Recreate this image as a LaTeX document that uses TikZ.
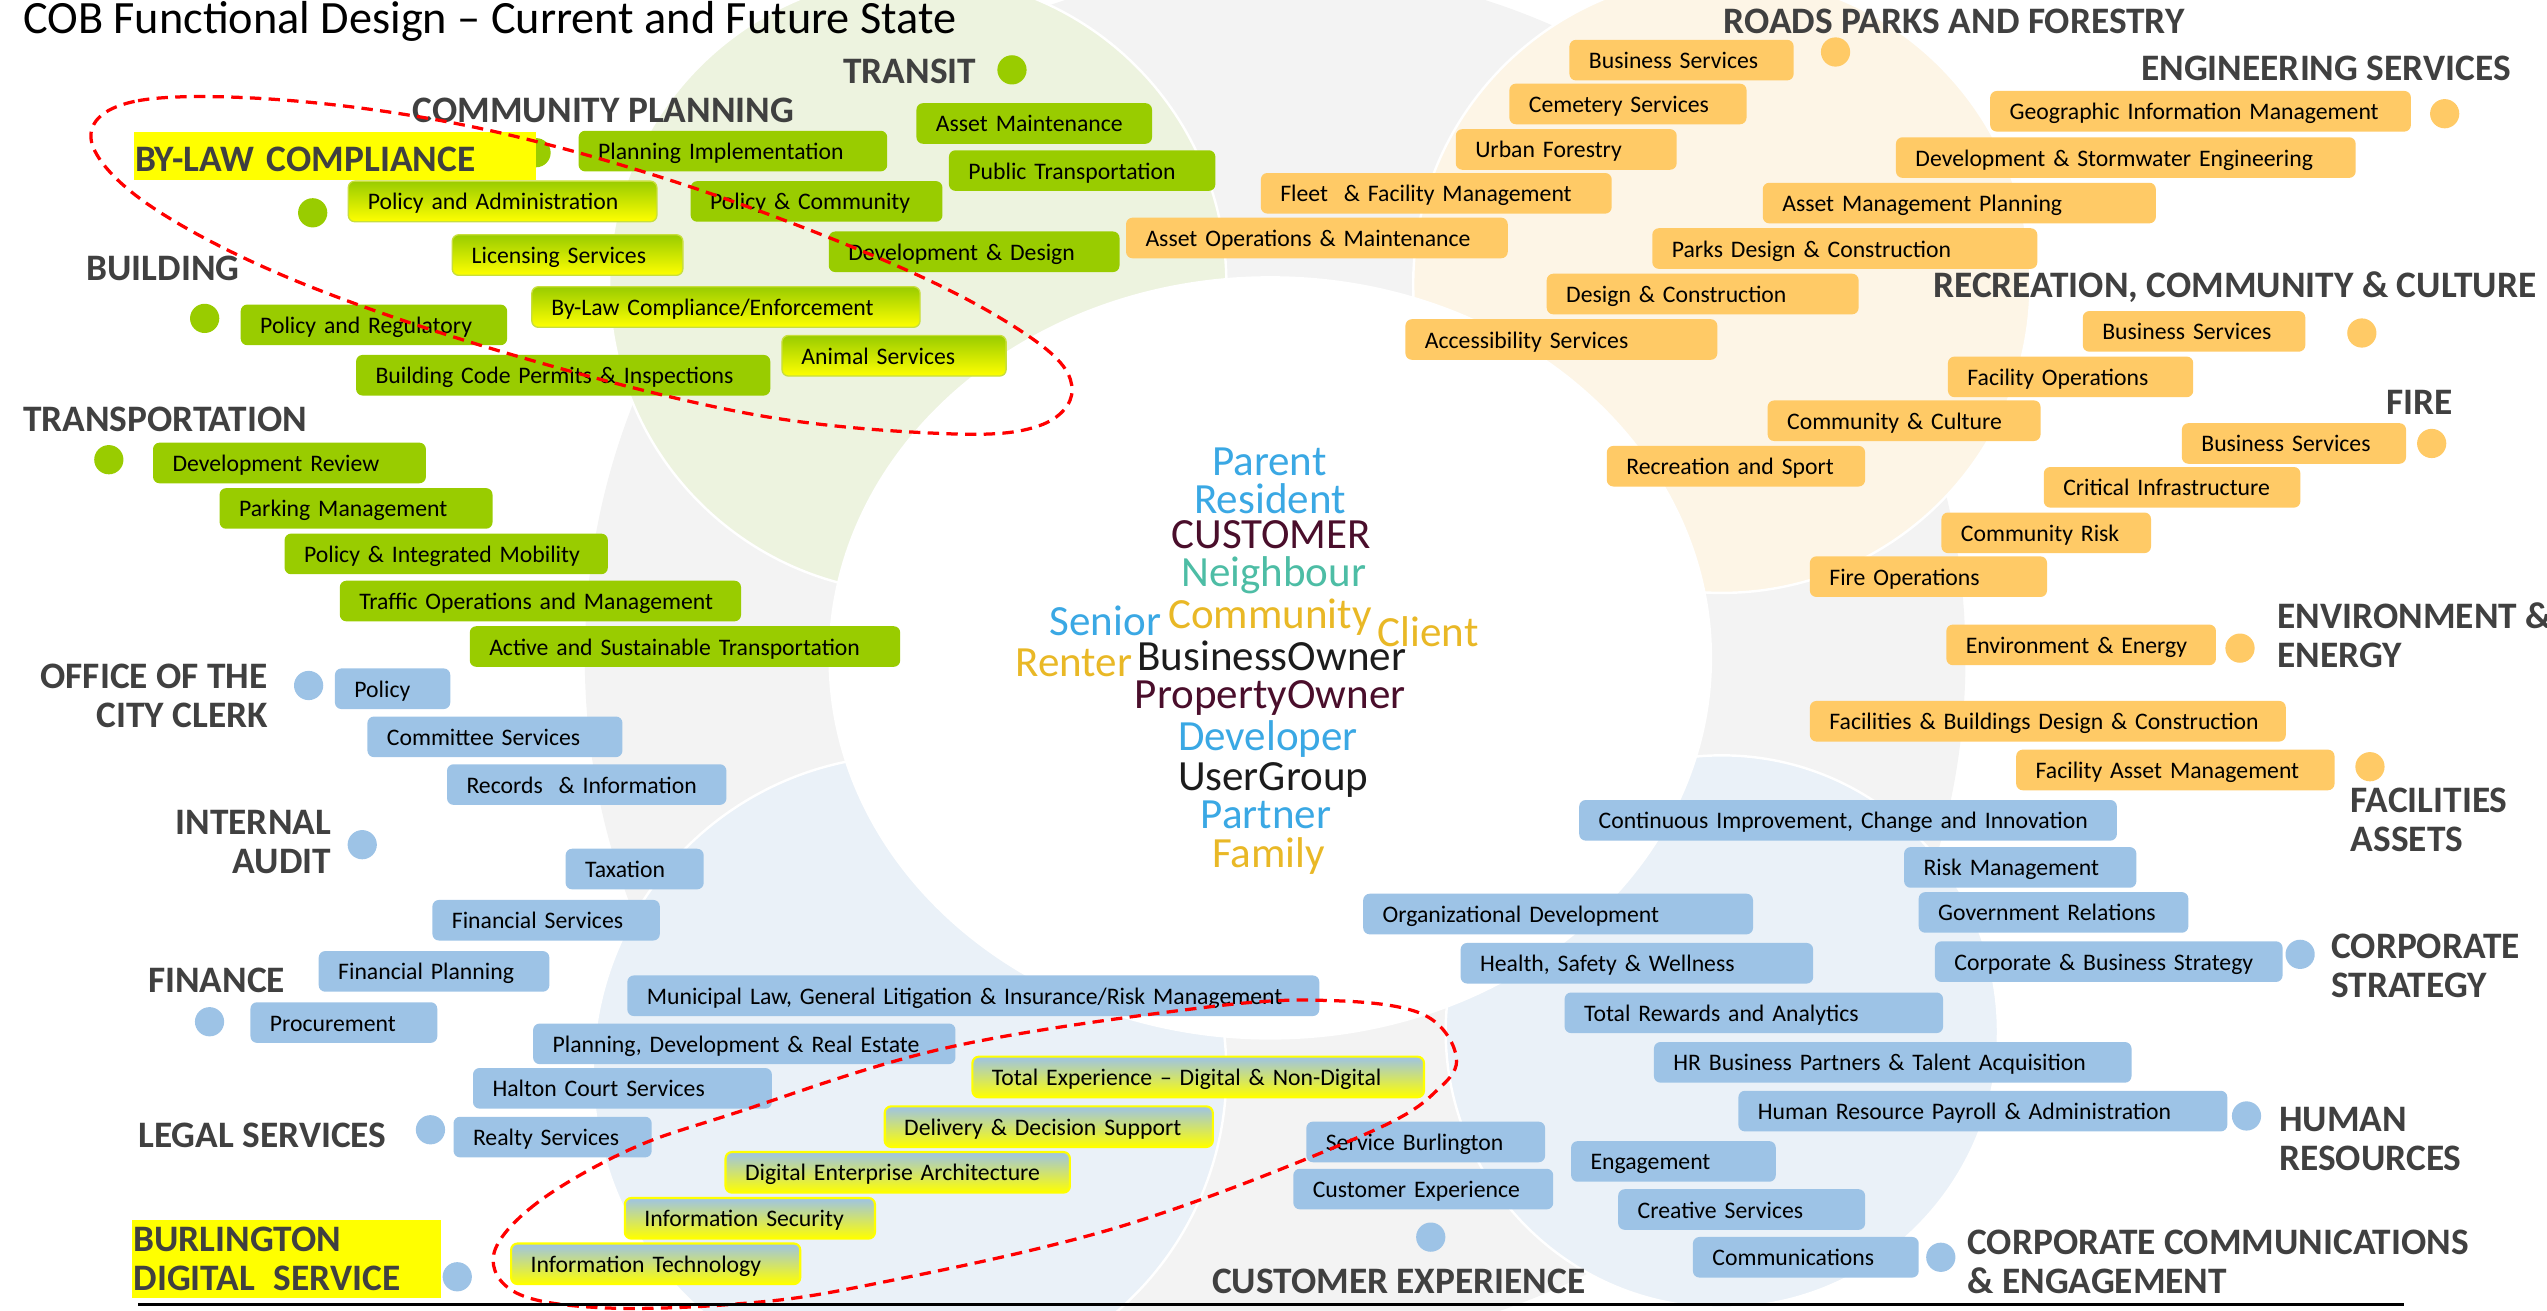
\documentclass[tikz,border=0pt]{standalone}
\usepackage{fontspec}
\setmainfont{Carlito}
\definecolor{cobgreen}{HTML}{99CC00}
\definecolor{cobgold}{HTML}{FFCA66}
\definecolor{cobblue}{HTML}{9DC3E6}
\definecolor{cobgray}{HTML}{404040}
\definecolor{cobyellow}{HTML}{FFFF00}
\definecolor{cobedge}{HTML}{C8DE3C}
\definecolor{cobred}{HTML}{FF0000}
\definecolor{tring}{HTML}{F3F3F3}
\definecolor{tgreen}{HTML}{EDF3DF}
\definecolor{tbeige}{HTML}{FDF5E6}
\definecolor{tblue}{HTML}{EAF1F8}
\definecolor{wblue}{HTML}{3AA8E4}
\definecolor{wmaroon}{HTML}{4A0E2B}
\definecolor{wteal}{HTML}{4DBDA5}
\definecolor{wgold}{HTML}{E9B826}
\definecolor{wblack}{HTML}{1C1C1C}

\begin{document}
\begin{tikzpicture}[x=1pt,y=-1pt,
svc/.style={anchor=west,rounded corners=4pt,minimum height=25pt,inner xsep=12pt,inner ysep=0pt,
  text height=12pt,text depth=1.5pt,align=left,font=\fontsize{14.6}{16}\selectfont},
gsvc/.style={svc,fill=cobgreen},
gysvc/.style={svc,top color=cobgreen,bottom color=cobyellow,draw=cobedge,line width=0.8pt},
osvc/.style={svc,fill=cobgold},
bsvc/.style={svc,fill=cobblue},
bysvc/.style={svc,top color=cobblue,bottom color=cobyellow,draw=cobyellow,line width=1.3pt},
dept/.style={text=cobgray,inner sep=0pt,font=\bfseries\fontsize{23}{24}\selectfont},
hilite/.style={dept,fill=cobyellow,anchor=west,inner xsep=1pt,align=left},
gdot/.style={circle,fill=cobgreen,minimum size=18pt,inner sep=0pt},
odot/.style={circle,fill=cobgold,minimum size=18pt,inner sep=0pt},
bdot/.style={circle,fill=cobblue,minimum size=18pt,inner sep=0pt},
word/.style={anchor=base west,inner sep=0pt,font=\fontsize{26.5}{26.5}\selectfont},
redring/.style={draw=cobred,line width=2pt,dash pattern=on 7pt off 4.5pt}
]
\useasboundingbox (0,0) rectangle (1568,807);
\begin{scope}
\clip (0,0) rectangle (1568,807);
\fill[tring] (785,405) circle (425pt);
\filldraw[fill=tgreen,draw=white,line width=1.5pt] (565,175) circle (190pt);
\filldraw[fill=tbeige,draw=white,line width=1.5pt] (1060,175) circle (190pt);
\filldraw[fill=tblue,draw=white,line width=1.5pt] (560,660) circle (195pt);
\filldraw[fill=tblue,draw=white,line width=1.5pt] (1060,635) circle (170pt);
\fill[white] (782,405) ellipse [x radius=272pt,y radius=235pt];
\end{scope}

\path
(14,20.5) node[anchor=base west,inner sep=0pt,font=\fontsize{28.5}{30}\selectfont] (title) {COB Functional Design -- Current and Future State}
;

\path
(623,43)    node[gdot] (d1) {}
(330,94)    node[gdot] (d2) {}
(192.5,131) node[gdot] (d3) {}
(126,196)   node[gdot] (d4) {}
(67,283)    node[gdot] (d5) {}
(1130,32)   node[odot] (d6) {}
(1505,70)   node[odot] (d7) {}
(1454,205)  node[odot] (d8) {}
(1497,273)  node[odot] (d9) {}
(1379,399)  node[odot] (d10) {}
(1459,472)  node[odot] (d11) {}
(190,422)   node[bdot] (d12) {}
(223,520)   node[bdot] (d13) {}
(129,629)   node[bdot] (d14) {}
(265,695.5) node[bdot] (d15) {}
(281.5,786) node[bdot] (d16) {}
(880.8,761.6) node[bdot] (d17) {}
(1194.8,774) node[bdot] (d18) {}
(1383,687)  node[bdot] (d19) {}
(1416,587.5) node[bdot] (d20) {}
;

\path
(519,44)    node[dept,anchor=west] (transit) {TRANSIT}
(254,68)    node[dept,anchor=west] (cplan) {COMMUNITY PLANNING}
(82,96)     node[hilite,text width=246pt,minimum height=29pt,text height=19.5pt,text depth=0pt] (bylaw) {BY-LAW COMPLIANCE}
(53,165)    node[dept,anchor=west] (build) {BUILDING}
(14,258)    node[dept,anchor=west] (transp) {TRANSPORTATION}
(165,428.5) node[dept,anchor=east,align=right] (clerk) {OFFICE OF THE\\CITY CLERK}
(204,518.5) node[dept,anchor=east,align=right] (audit) {INTERNAL\\AUDIT}
(91,603.5)  node[dept,anchor=west] (fin) {FINANCE}
(85,699)    node[dept,anchor=west] (legal) {LEGAL SERVICES}
(81,775)    node[hilite,text width=188pt,minimum height=48pt] (bds) {BURLINGTON\\DIGITAL\kern4pt\ SERVICE}
(746,789)   node[dept,anchor=west] (cx) {CUSTOMER EXPERIENCE}
(1211,776.6) node[dept,anchor=west,align=left] (comms) {CORPORATE COMMUNICATIONS\\\& ENGAGEMENT}
(1403,701)  node[dept,anchor=west,align=left] (hr) {HUMAN\\RESOURCES}
(1435,594.7) node[dept,anchor=west,align=left] (strat) {CORPORATE\\STRATEGY}
(1447,505)  node[dept,anchor=west,align=left] (facil) {FACILITIES\\ASSETS}
(1402,391)  node[dept,anchor=west,align=left] (env) {ENVIRONMENT \&\\ENERGY}
(1469,248)  node[dept,anchor=west] (fire) {FIRE}
(1190,176.5) node[dept,anchor=west] (rec) {RECREATION, COMMUNITY \& CULTURE}
(1318,42)   node[dept,anchor=west] (eng) {ENGINEERING SERVICES}
(1061,13)   node[dept,anchor=west] (rpf) {ROADS PARKS AND FORESTRY}
;

\path
(356,93)    node[gsvc,text width=166pt] (1) {Planning Implementation}
(564,76)    node[gsvc,text width=121pt] (2) {Asset Maintenance}
(584,105)   node[gsvc,text width=140pt] (3) {Public Transportation}
(425,124)   node[gsvc,text width=131pt] (4) {Policy \& Community}
(510,155)   node[gsvc,text width=155pt] (5) {Development \& Design}
(148,200)   node[gsvc,text width=140pt] (6) {Policy and Regulatory}
(219,231)   node[gsvc,text width=231pt] (7) {Building Code Permits \& Inspections}
(94,285)    node[gsvc,text width=144pt] (8) {Development Review}
(135,313)   node[gsvc,text width=144pt] (9) {Parking Management}
(175,341)   node[gsvc,text width=175pt] (10) {Policy \& Integrated Mobility}
(209,370)   node[gsvc,text width=223pt] (11) {Traffic Operations and Management}
(289,398)   node[gsvc,text width=241pt] (12) {Active and Sustainable Transportation}
(214,124)   node[gysvc,text width=166pt] (13) {Policy and Administration}
(278,157)   node[gysvc,text width=118pt] (14) {Licensing Services}
(327,189)   node[gysvc,text width=215pt] (15) {By-Law Compliance/Enforcement}
(481,219)   node[gysvc,text width=114pt] (16) {Animal Services}
;

\path
(966,37)    node[osvc,text width=114pt] (17) {Business Services}
(929,64)    node[osvc,text width=122pt] (18) {Cemetery Services}
(896,92)    node[osvc,text width=112pt] (19) {Urban Forestry}
(776,119)   node[osvc,text width=192pt] (20) {Fleet~~\& Facility Management}
(693,146.5) node[osvc,text width=211pt] (21) {Asset Operations \& Maintenance}
(952,181)   node[osvc,text width=168pt] (22) {Design \& Construction}
(865,209)   node[osvc,text width=168pt] (23) {Accessibility Services}
(1225,68.5) node[osvc,text width=235pt] (24) {Geographic Information Management}
(1167,97)   node[osvc,text width=259pt] (25) {Development \& Stormwater Engineering}
(1085,125)  node[osvc,text width=218pt] (26) {Asset Management Planning}
(1017,153)  node[osvc,text width=213pt] (27) {Parks Design \& Construction}
(1282,204)  node[osvc,text width=113pt] (28) {Business Services}
(1199,232)  node[osvc,text width=127pt] (29) {Facility Operations}
(1088,259)  node[osvc,text width=144pt] (30) {Community \& Culture}
(989,287)   node[osvc,text width=135pt] (31) {Recreation and Sport}
(1343,273)  node[osvc,text width=114pt] (32) {Business Services}
(1258,300)  node[osvc,text width=134pt] (33) {Critical Infrastructure}
(1195,328)  node[osvc,text width=105pt] (34) {Community Risk}
(1114,355)  node[osvc,text width=122pt] (35) {Fire Operations}
(1198,397)  node[osvc,text width=142pt] (36) {Environment \& Energy}
(1114,444)  node[osvc,text width=269pt] (37) {Facilities \& Buildings Design \& Construction}
(1241,474)  node[osvc,text width=172pt] (38) {Facility Asset Management}
;

\path
(206,424)   node[bsvc,text width=47pt] (39) {Policy}
(226,453.6) node[bsvc,text width=133pt] (40) {Committee Services}
(275,483)   node[bsvc,text width=148pt] (41) {Records~~\& Information}
(348,535)   node[bsvc,text width=61pt] (42) {Taxation}
(266,566.5) node[bsvc,text width=116pt] (43) {Financial Services}
(196,598)   node[bsvc,text width=118pt] (44) {Financial Planning}
(154,629.5) node[bsvc,text width=91pt] (45) {Procurement}
(386,613)   node[bsvc,text width=402pt] (46) {Municipal Law, General Litigation \& Insurance/Risk Management}
(328,642.6) node[bsvc,text width=236pt] (47) {Planning, Development \& Real Estate}
(291,670)   node[bsvc,text width=160pt] (48) {Halton Court Services}
(279,700)   node[bsvc,text width=98pt] (49) {Realty Services}
(972,505)   node[bsvc,text width=307pt] (50) {Continuous Improvement, Change and Innovation}
(1172,534)  node[bsvc,text width=119pt] (51) {Risk Management}
(1181,561.7) node[bsvc,text width=142pt] (52) {Government Relations}
(1191,592)  node[bsvc,text width=190pt] (53) {Corporate \& Business Strategy}
(839,562.7) node[bsvc,text width=216pt] (54) {Organizational Development}
(899,593)   node[bsvc,text width=193pt] (55) {Health, Safety \& Wellness}
(963,623.5) node[bsvc,text width=209pt] (56) {Total Rewards and Analytics}
(1018,654)  node[bsvc,text width=270pt] (57) {HR Business Partners \& Talent Acquisition}
(1070,684)  node[bsvc,text width=277pt] (58) {Human Resource Payroll \& Administration}
(804,703)   node[bsvc,text width=123pt] (59) {Service Burlington}
(796,732)   node[bsvc,text width=136pt] (60) {Customer Experience}
(967,715)   node[bsvc,text width=102pt] (61) {Engagement}
(996,744.6) node[bsvc,text width=128pt] (62) {Creative Services}
(1042,774)  node[bsvc,text width=115pt] (63) {Communications}
(598,663)   node[bysvc,text width=254pt] (64) {Total Experience -- Digital \& Non-Digital}
(544,693.6) node[bysvc,text width=178pt] (65) {Delivery \& Decision Support}
(446,721.7) node[bysvc,text width=188pt] (66) {Digital Enterprise Architecture}
(384,750)   node[bysvc,text width=130pt] (67) {Information Security}
(314,778)   node[bysvc,text width=154pt] (68) {Information Technology}
;

\path
(746,292.5) node[word,text=wblue] (w1) {Parent}
(735,316)   node[word,text=wblue] (w2) {Resident}
(721,337.6) node[word,text=wmaroon] (w3) {CUSTOMER}
(727,361)   node[word,text=wteal] (w4) {Neighbour}
(646,391)   node[word,text=wblue] (w5) {Senior}
(719,387)   node[word,text=wgold] (w6) {Community}
(848,398)   node[word,text=wgold] (w7) {Client}
(625,416.7) node[word,text=wgold] (w8) {Renter}
(700,412.6) node[word,text=wblack] (w9) {BusinessOwner}
(698.5,436) node[word,text=wmaroon] (w10) {PropertyOwner}
(725,462)   node[word,text=wblue] (w11) {Developer}
(725,486.5) node[word,text=wblack] (w12) {UserGroup}
(739,510)   node[word,text=wblue] (w13) {Partner}
(746,534)   node[word,text=wgold] (w14) {Family}
;

\draw[redring] plot[smooth cycle,tension=0.6] coordinates {(56,85) (85,62) (180,62) (300,80) (431,117) (562,168) (639,211) (660,240) (640,262) (583,267) (463,255) (314,218) (180,172) (90,125)};
\draw[redring] plot[smooth cycle,tension=0.6] coordinates {(387,708) (330,741) (304,772) (318,796) (369,805) (450,803) (530,792) (690,755) (841,698) (887,669) (896,648) (875,624) (820,616) (743,620) (583,645) (450,686)};
\draw[line width=1.8pt] (85,803.3) -- (1480,803.3);
\end{tikzpicture}
\end{document}
